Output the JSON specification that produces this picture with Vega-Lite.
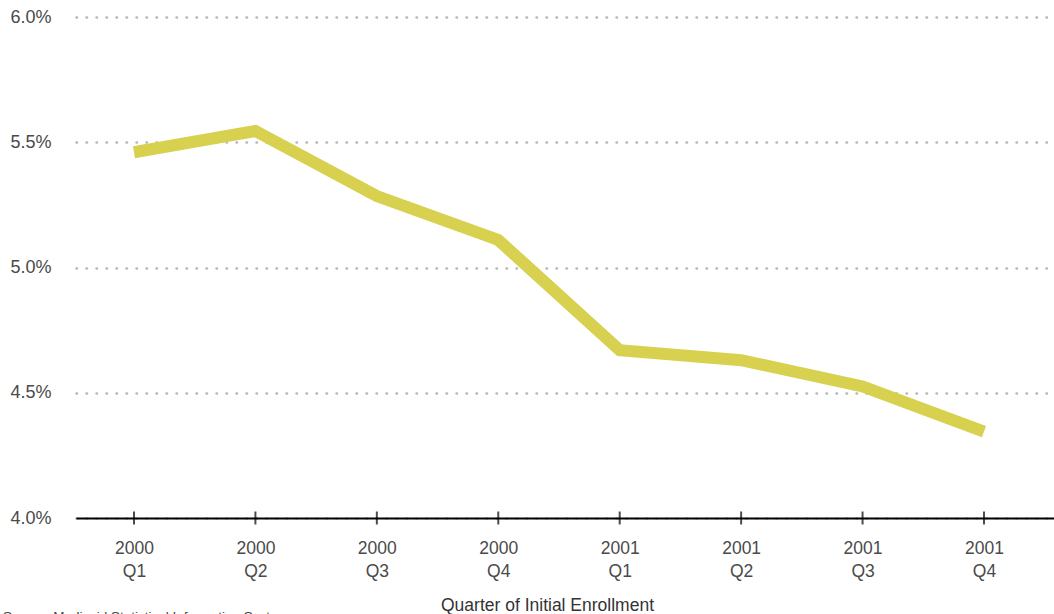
{
  "$schema": "https://vega.github.io/schema/vega-lite/v6.json",
  "autosize": "none",
  "width": 978,
  "height": 501,
  "padding": {"left": 76, "top": 17, "right": 0, "bottom": 96},
  "background": "white",
  "config": {"view": {"stroke": null}, "font": "Liberation Sans"},
  "title": {
    "text": "Source: Medicaid Statistical Information System",
    "orient": "bottom",
    "anchor": "start",
    "dx": -7,
    "offset": -4,
    "fontSize": 13.5,
    "fontWeight": "normal",
    "color": "#444444"
  },
  "data": {
    "values": [
      {"quarter": "2000 Q1", "rate": 5.46},
      {"quarter": "2000 Q2", "rate": 5.545},
      {"quarter": "2000 Q3", "rate": 5.285},
      {"quarter": "2000 Q4", "rate": 5.11},
      {"quarter": "2001 Q1", "rate": 4.67},
      {"quarter": "2001 Q2", "rate": 4.63},
      {"quarter": "2001 Q3", "rate": 4.525},
      {"quarter": "2001 Q4", "rate": 4.345}
    ]
  },
  "layer": [
    {
      "mark": {"type": "line", "color": "#d7d14f", "strokeWidth": 12, "strokeJoin": "miter", "strokeCap": "butt"},
      "encoding": {
        "x": {
          "field": "quarter", "type": "ordinal", "sort": null,
          "scale": {"type": "point", "padding": 0.527, "align": 0.453},
          "axis": {
            "title": "Quarter of Initial Enrollment",
            "titleFontSize": 17.5, "titleFontWeight": "normal", "titleColor": "#333333",
            "titleX": 471, "titleY": 78, "titleBaseline": "top",
            "labelExpr": "split(datum.label, ' ')",
            "labelAngle": 0, "labelFontSize": 17.5, "labelColor": "#4a4a4a",
            "labelLineHeight": 23, "labelPadding": 21, "labelBaseline": "top",
            "domainColor": "#000000", "domainWidth": 2,
            "ticks": false, "grid": false
          }
        },
        "y": {
          "field": "rate", "type": "quantitative",
          "scale": {"domain": [4, 6], "nice": false, "zero": false},
          "axis": {
            "title": null,
            "values": [4, 4.5, 5, 5.5, 6],
            "labelExpr": "format(datum.value, '.1f') + '%'",
            "labelFontSize": 18, "labelColor": "#4a4a4a",
            "labelAlign": "left", "labelPadding": 66, "labelBaseline": "middle",
            "domain": false, "ticks": false,
            "grid": true, "gridColor": "#b8b8b8", "gridDash": [0.5, 9.5], "gridWidth": 2.5, "gridCap": "round"
          }
        }
      }
    },
    {
      "mark": {"type": "tick", "orient": "vertical", "color": "#000000", "thickness": 2, "size": 13},
      "encoding": {
        "x": {"field": "quarter", "type": "ordinal", "sort": null},
        "y": {"datum": 4}
      }
    }
  ]
}
